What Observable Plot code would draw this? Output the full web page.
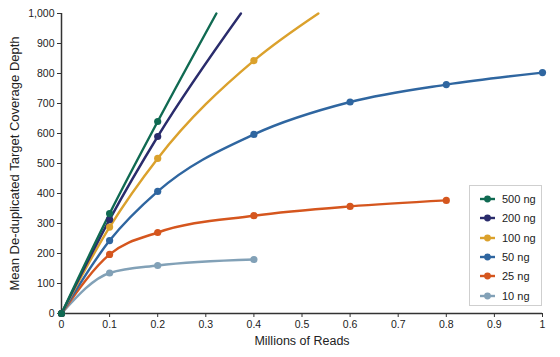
<!DOCTYPE html>
<html><head><meta charset="utf-8">
<script src="https://cdn.jsdelivr.net/npm/d3@7"></script>
<script src="https://cdn.jsdelivr.net/npm/@observablehq/plot@0.6"></script>
<style>
body{margin:0;background:#fff;font-family:"Liberation Sans",Arial,sans-serif;}
#wrap{position:relative;width:560px;height:357px;}
#legend{position:absolute;left:469px;top:185px;width:73px;height:121px;border:1px solid #cfcfcf;background:#fff;box-sizing:border-box;font-size:11px;color:#222;}
#legend .item{position:absolute;left:0;width:72px;height:14px;display:flex;align-items:center;white-space:nowrap;}
</style></head>
<body><div id="wrap"><div id="legend"></div></div>
<script>
const series = ["500 ng","200 ng","100 ng","50 ng","25 ng","10 ng"];
const colors = ["#106a52","#2a2c6c","#dba12c","#2f66a0","#d5561e","#82a1b7"];
// measured reads (millions) and depth
const x500 = [0,0.1,0.2], y500 = [0,333,640];
const x200 = [0,0.1,0.2], y200 = [0,313,590];
const x100 = [0,0.1,0.2,0.4], y100 = [0,288,517,843];
const x50 = [0,0.1,0.2,0.4,0.6,0.8,1.0], y50 = [0,243,407,597,705,763,803];
const x25 = [0,0.1,0.2,0.4,0.6,0.8], y25 = [0,197,270,326,357,377];
const x10 = [0,0.1,0.2,0.4], y10 = [0,135,160,180];
// extrapolated curve end points (no marker), where line leaves the top
const ext500 = [0.322,1000], ext200 = [0.373,1000], ext100 = [0.534,1000];
const xTicks = [0,0.1,0.2,0.3,0.4,0.5,0.6,0.7,0.8,0.9,1];
const yTicks = [0,100,200,300,400,500,600,700,800,900,1000];

const measured = [[x500,y500],[x200,y200],[x100,y100],[x50,y50],[x25,y25],[x10,y10]];
const exts = [ext500, ext200, ext100, null, null, null];
const pts = [], linePts = [];
measured.forEach(([xs,ys],i)=>{
  xs.forEach((x,j)=>{pts.push({s:series[i],x,y:ys[j]}); linePts.push({s:series[i],x,y:ys[j]});});
  if (exts[i]) linePts.push({s:series[i],x:exts[i][0],y:exts[i][1]});
});
const order = [...series].reverse();
const byOrder = (a,b)=>order.indexOf(a.s)-order.indexOf(b.s);
const plot = Plot.plot({
  width:560, height:357,
  marginLeft:61, marginRight:18, marginTop:13, marginBottom:44,
  style:{fontFamily:'"Liberation Sans",Arial,sans-serif', fontSize:"10px", color:"#222"},
  x:{domain:[0,1]},
  y:{domain:[0,1000]},
  color:{domain:series, range:colors},
  marks:[
    Plot.ruleX([0],{y1:0,y2:1000,stroke:"#333",strokeWidth:1.5}),
    Plot.ruleY([0],{x1:0,x2:1,stroke:"#333",strokeWidth:1.5}),
    Plot.axisY(yTicks,{tickSize:4,tickPadding:3,fontSize:10.5,tickFormat:d3.format(","),label:null,stroke:"#333"}),
    Plot.axisX(xTicks,{tickSize:4,tickPadding:3,fontSize:10.5,tickFormat:d=>String(d),label:null,stroke:"#333"}),
    Plot.text(["Mean De-duplicated Target Coverage Depth"],{frameAnchor:"left",textAnchor:"middle",dx:-47,rotate:-90,fontSize:13,fill:"#222"}),
    Plot.text(["Millions of Reads"],{frameAnchor:"bottom",dy:31,fontSize:12.5,fill:"#222"}),
    Plot.line(linePts.sort(byOrder),{x:"x",y:"y",z:"s",stroke:"s",strokeWidth:2.4,curve:"monotone-x"}),
    Plot.dot(pts.sort(byOrder),{x:"x",y:"y",fill:"s",r:3.6})
  ]
});
document.getElementById("wrap").prepend(plot);
const lg = document.getElementById("legend");
series.forEach((s,i)=>{
  const it = document.createElement("div");
  it.className="item";
  it.style.top = (6 + i*19.3) + "px";
  it.innerHTML = `<svg width="24" height="14" style="margin-left:8px;flex:none"><line x1="2" x2="17" y1="7" y2="7" stroke="${colors[i]}" stroke-width="2.4"/><circle cx="9.5" cy="7" r="3.4" fill="${colors[i]}"/></svg><span>${s}</span>`;
  lg.appendChild(it);
});
</script></body></html>
